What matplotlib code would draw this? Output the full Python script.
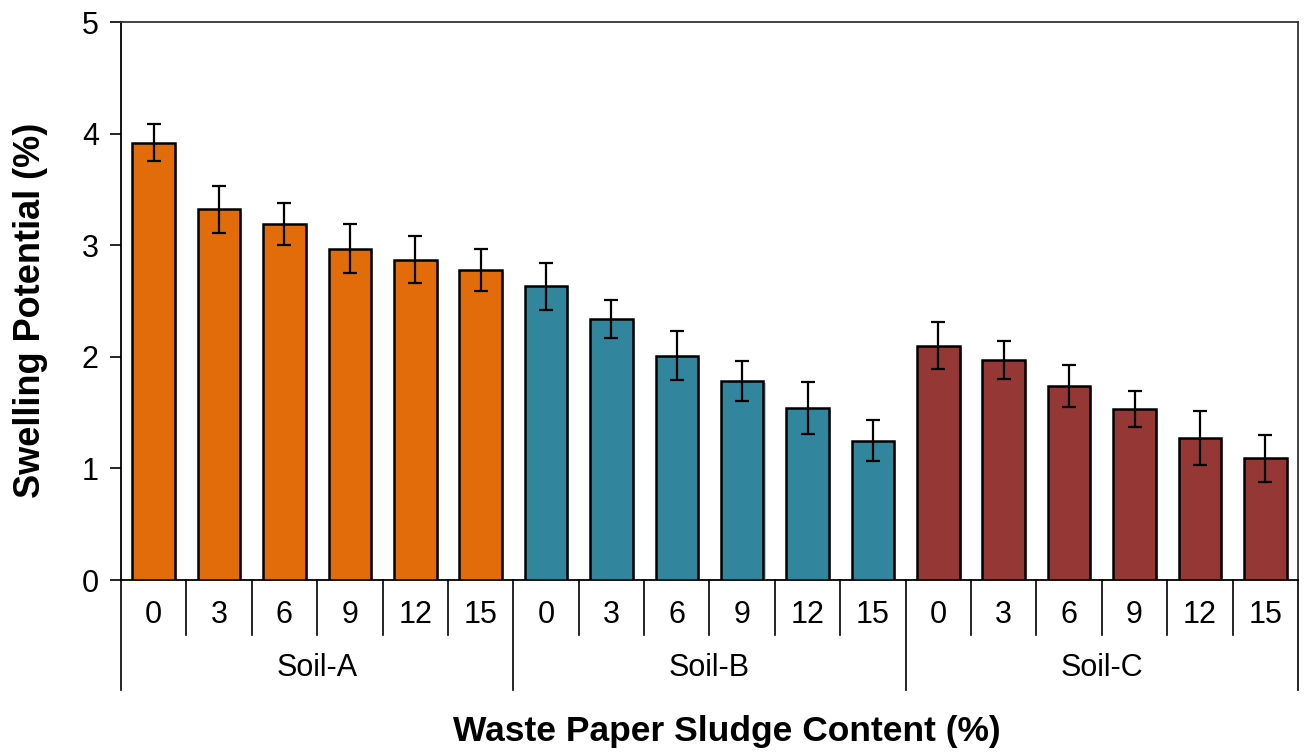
import matplotlib
matplotlib.use("Agg")
import matplotlib.pyplot as plt
import matplotlib.patheffects as pe
import numpy as np

plt.rcParams['font.family'] = ['Liberation Sans', 'DejaVu Sans']

soils = ['Soil-A', 'Soil-B', 'Soil-C']
contents = ['0', '3', '6', '9', '12', '15']
soil_a = [3.92, 3.32, 3.19, 2.97, 2.87, 2.78]
soil_b = [2.63, 2.34, 2.01, 1.78, 1.54, 1.25]
soil_c = [2.10, 1.97, 1.74, 1.53, 1.27, 1.09]
err_a = [0.17, 0.21, 0.19, 0.22, 0.21, 0.19]
err_b = [0.21, 0.17, 0.22, 0.18, 0.23, 0.18]
err_c = [0.21, 0.17, 0.19, 0.16, 0.24, 0.21]
colors = ['#E36C0A', '#31859C', '#953735']

fig = plt.figure(figsize=(13.07, 7.52), dpi=100)
ax = fig.add_axes([121 / 1307, 1 - 580 / 752, (1298 - 121) / 1307, (580 - 22) / 752])

vals = [soil_a, soil_b, soil_c]
errs = [err_a, err_b, err_c]
n = len(contents)
for g in range(3):
    x = np.arange(n) + g * n
    bars = ax.bar(x, vals[g], width=0.65, color=colors[g], edgecolor='black', linewidth=1.8, zorder=3)
    for b in bars:
        b.set_path_effects([pe.SimplePatchShadow(offset=(1.5, -1.5), shadow_rgbFace='#888888', alpha=0.5), pe.Normal()])
    ax.errorbar(x, vals[g], yerr=errs[g], fmt='none', ecolor='black', elinewidth=1.6,
                capsize=5, capthick=1.6, zorder=4)

ax.set_xlim(-0.5, 3 * n - 0.5)
ax.set_ylim(0, 5)
ax.set_yticks([0, 1, 2, 3, 4, 5])
ax.tick_params(axis='y', direction='out', length=8, width=1.2, labelsize=22, pad=8)
ax.set_xticks([])

for s in ['left', 'bottom']:
    ax.spines[s].set_linewidth(1.3)
    ax.spines[s].set_color('black')
for s in ['top', 'right']:
    ax.spines[s].set_linewidth(1.3)
    ax.spines[s].set_color('#333333')

# two-level category axis
tr = ax.get_xaxis_transform()
for i in range(3 * n + 1):
    xb = i - 0.5
    y_end = -0.197 if i % n == 0 else -0.0986
    ax.plot([xb, xb], [0, y_end], transform=tr, color='black', lw=1.2, clip_on=False)
for g in range(3):
    for j, c in enumerate(contents):
        ax.text(g * n + j, -0.063, c, transform=tr, ha='center', va='center', fontsize=22)
    ax.text(g * n + (n - 1) / 2, -0.158, soils[g], transform=tr, ha='center', va='center', fontsize=22)

fig.text(727 / 1307, 1 - 731 / 752, 'Waste Paper Sludge Content (%)',
         ha='center', va='center', fontsize=25.5, fontweight='bold')
fig.text(31 / 1307, 1 - 310 / 752, 'Swelling Potential (%)', rotation=90,
         ha='center', va='center', fontsize=26, fontweight='bold')

fig.savefig('out.png', dpi=100)
